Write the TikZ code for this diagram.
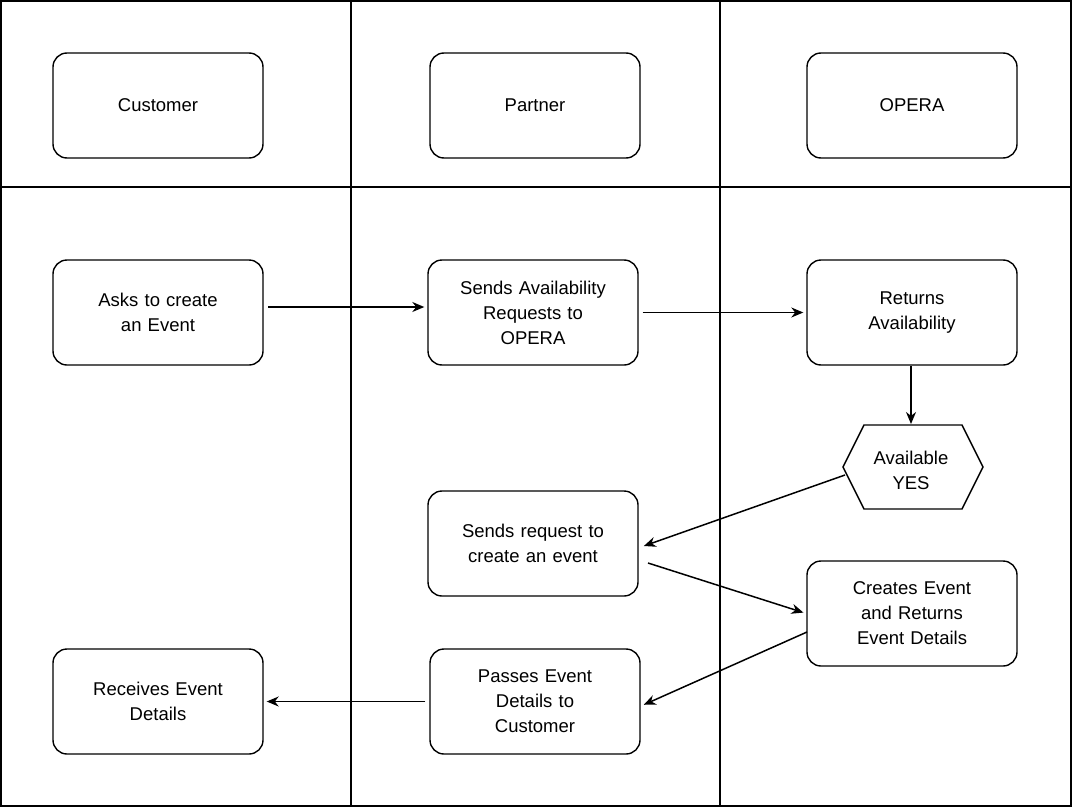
\documentclass[tikz,border=0pt]{standalone}
\usepackage{fontspec}
\setmainfont{Liberation Sans}
\usetikzlibrary{shapes.geometric,arrows.meta}
\begin{document}
\begin{tikzpicture}[x=1pt,y=-1pt,line width=1.4pt,
  box/.style={draw,rounded corners=14pt,minimum width=210pt,minimum height=105pt,align=center,font=\fontsize{18.5}{25}\selectfont,text width=195pt},
  arr/.style={line width=1.5pt,-{Stealth[length=12pt,width=10pt]},shorten >=3pt,shorten <=4pt}]
\useasboundingbox (0,0) rectangle (1073,808);
\draw (1,1) rectangle (1071,806);
\draw (351,1) -- (351,806) (720,1) -- (720,806) (1,187) -- (1071,187);
\node[box] (cu) at (158,105.5) {Customer};
\node[box] (pa) at (535,105.5) {Partner};
\node[box] (op) at (912,105.5) {OPERA};
\node[box] (ask) at (158,312.5) {Asks to create\\an Event\\[-8pt]};
\node[box] (sar) at (533,312.5) {Sends Availability\\Requests to\\OPERA};
\node[box] (ret) at (912,312.5) {Returns\\Availability\\[-8pt]};
\draw (843,467) -- (864,425) -- (962,425) -- (983,467) -- (962,509) -- (864,509) -- cycle;
\node[align=center,font=\fontsize{18.5}{25}\selectfont] (hex) at (911,470) {Available\\YES};
\node[box] (srq) at (533,543.5) {Sends request to\\create an event\\[-8pt]};
\node[box] (cre) at (912,613.5) {Creates Event\\and Returns\\Event Details};
\node[box] (pas) at (535,701.5) {Passes Event\\Details to\\Customer};
\node[box] (rec) at (158,701.5) {Receives Event\\Details\\[-8pt]};
\coordinate (a1) at (268,307);
\coordinate (r1) at (911,366);
\coordinate (h0) at (911,425);
\coordinate (h1) at (845,475);
\coordinate (s1) at (648,563);
\coordinate (c1) at (807,632);
\draw[arr,shorten <=0pt] (a1) -- (sar.west |- a1);
\draw[arr] (sar.east) -- (ret.west);
\draw[arr,shorten <=0pt,shorten >=1pt] (r1) -- (h0);
\draw[arr,shorten <=0pt] (h1) -- (641,547);
\draw[arr,shorten <=0pt] (s1) -- (cre.west);
\draw[arr,shorten <=0pt] (c1) -- (641,706);
\draw[arr] (pas.west) -- (rec.east);
\end{tikzpicture}
\end{document}
